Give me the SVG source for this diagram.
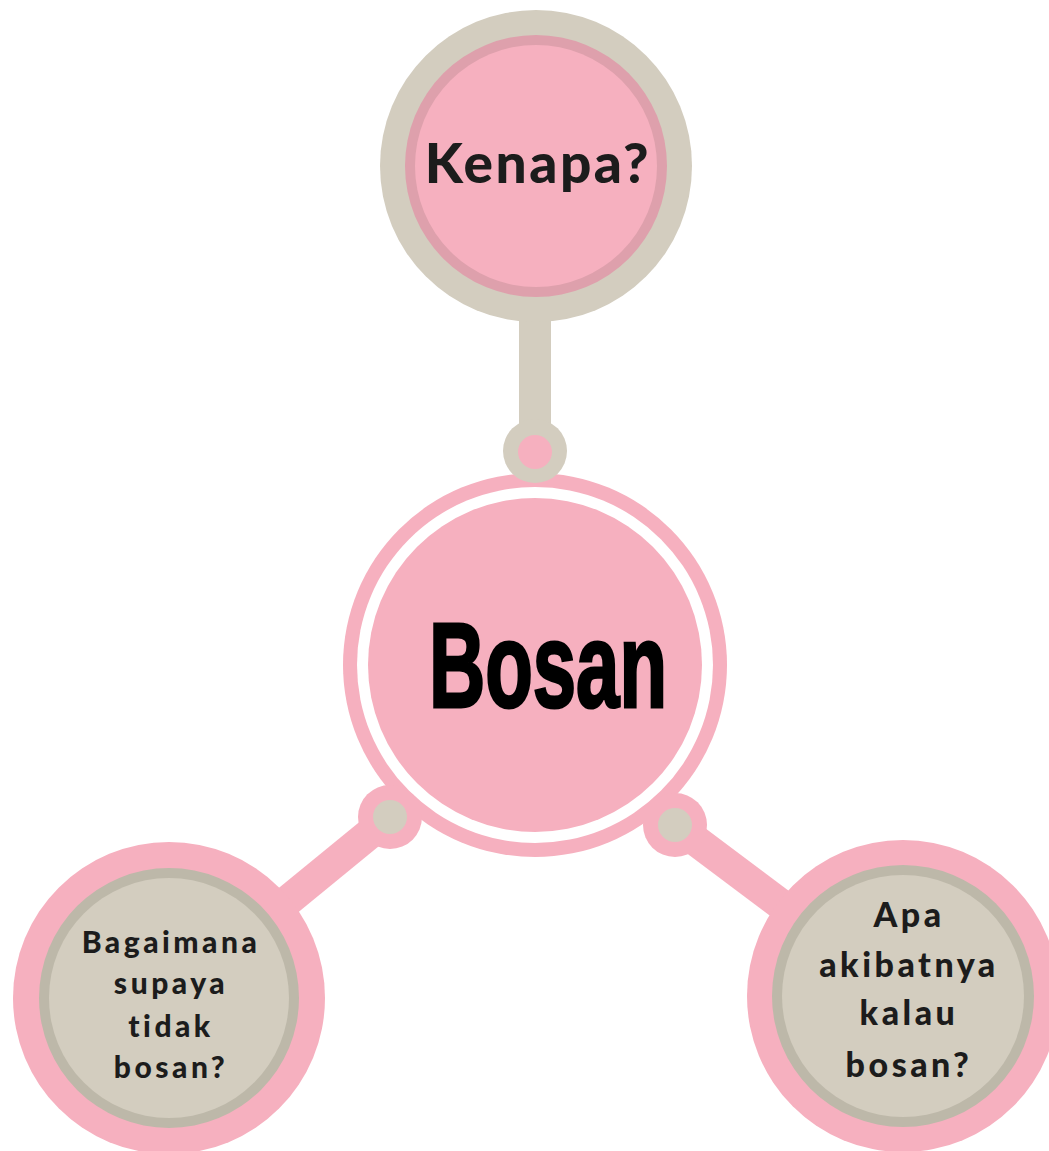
<svg xmlns="http://www.w3.org/2000/svg" width="1049" height="1151" viewBox="0 0 1049 1151">
<style>
.pink{fill:#f6b0bf}
.beige{fill:#d3cdbf}
.lbl{font-family:Lato,"Noto Sans",sans-serif;font-weight:900;fill:#1c1c1c;text-anchor:middle}
.small{font-size:30px;letter-spacing:3.5px}
</style>
<rect width="1049" height="1151" fill="#ffffff"/>
<g id="node-bosan">
<circle cx="535" cy="665" r="192" class="pink"/>
<circle cx="535" cy="665" r="178" fill="#ffffff"/>
<circle cx="535" cy="665" r="167" class="pink"/>
<text x="548" y="707" font-family="'Liberation Sans',Arial,sans-serif" font-weight="bold" font-size="120" fill="#000" stroke="#000" stroke-width="3" text-anchor="middle" textLength="238" lengthAdjust="spacingAndGlyphs">Bosan</text>
</g>
<g id="connectors">
<line x1="535" y1="300" x2="535" y2="451" stroke="#d3cdbf" stroke-width="32"/>
<circle cx="535" cy="451" r="32" class="beige"/>
<circle cx="535" cy="452" r="17" class="pink"/>
<line x1="390" y1="817" x2="169" y2="998" stroke="#f6b0bf" stroke-width="31"/>
<circle cx="390" cy="817" r="32" class="pink"/>
<circle cx="390" cy="817" r="17" class="beige"/>
<line x1="675" y1="825" x2="903" y2="996" stroke="#f6b0bf" stroke-width="31"/>
<circle cx="675" cy="825" r="32" class="pink"/>
<circle cx="675" cy="825" r="17" class="beige"/>
</g>
<g id="node-kenapa">
<circle cx="536" cy="166" r="156" class="beige"/>
<circle cx="536" cy="166" r="131" fill="#dea0ac"/>
<circle cx="536" cy="166" r="121" class="pink"/>
<text x="538" y="183" class="lbl" font-size="55" letter-spacing="2.5">Kenapa?</text>
</g>
<g id="node-bagaimana">
<circle cx="169" cy="998" r="156" class="pink"/>
<circle cx="169" cy="998" r="130" fill="#bdb8a9"/>
<circle cx="169" cy="998" r="120" class="beige"/>
<text class="lbl small"><tspan x="171" y="953">Bagaimana</tspan><tspan x="171" y="994">supaya</tspan><tspan x="171" y="1037">tidak</tspan><tspan x="171" y="1078">bosan?</tspan></text>
</g>
<g id="node-akibat">
<circle cx="903" cy="996" r="156" class="pink"/>
<circle cx="903" cy="996" r="131" fill="#bdb8a9"/>
<circle cx="903" cy="996" r="121" class="beige"/>
<text class="lbl" font-size="34" letter-spacing="3.5"><tspan x="909" y="927">Apa</tspan><tspan x="909" y="977">akibatnya</tspan><tspan x="909" y="1025">kalau</tspan><tspan x="909" y="1077">bosan?</tspan></text>
</g>
</svg>
